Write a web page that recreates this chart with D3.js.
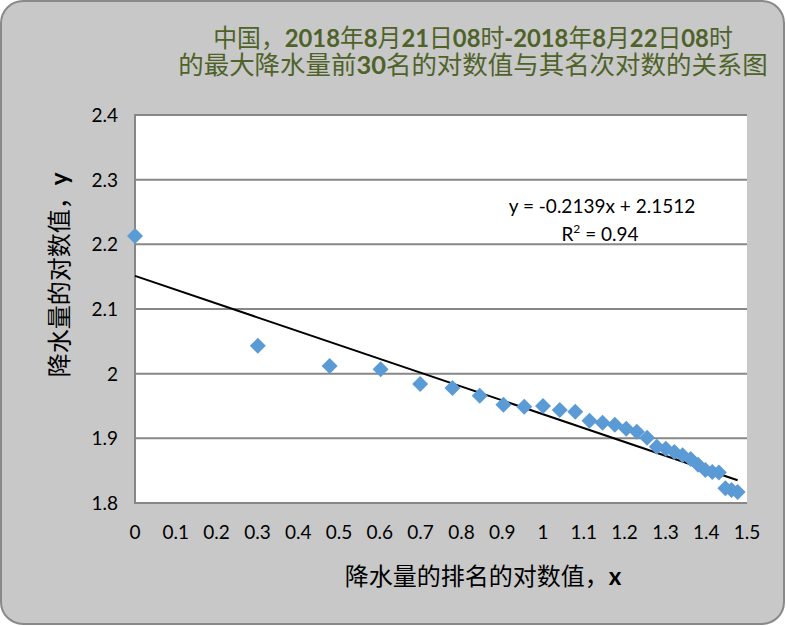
<!DOCTYPE html>
<html><head><meta charset="utf-8">
<script src="https://cdn.jsdelivr.net/npm/d3@7"></script>
<style>
html,body{margin:0;padding:0;background:#fff;}
svg{display:block;}
</style></head>
<body>
<script>
// log10(rank) for ranks 1..30
const xValues = [0, 0.301, 0.477, 0.602, 0.699, 0.778, 0.845, 0.903, 0.954, 1.000,
  1.041, 1.079, 1.114, 1.146, 1.176, 1.204, 1.230, 1.255, 1.279, 1.301,
  1.322, 1.342, 1.362, 1.380, 1.398, 1.415, 1.431, 1.447, 1.462, 1.477];
// log10(max precipitation)
const yValues = [2.213, 2.043, 2.012, 2.007, 1.984, 1.978, 1.966, 1.952, 1.949, 1.950,
  1.944, 1.941, 1.927, 1.924, 1.921, 1.915, 1.910, 1.901, 1.887, 1.884,
  1.879, 1.874, 1.868, 1.859, 1.851, 1.848, 1.847, 1.823, 1.820, 1.817];
const xTicks = [0,0.1,0.2,0.3,0.4,0.5,0.6,0.7,0.8,0.9,1,1.1,1.2,1.3,1.4,1.5];
const yTicks = [1.8,1.9,2.0,2.1,2.2,2.3,2.4];
const trendSlope = -0.2139, trendIntercept = 2.1512, rSquared = "0.94";
const titleLines = ["中国，2018年8月21日08时-2018年8月22日08时", "的最大降水量前30名的对数值与其名次对数的关系图"];
const xTitle = "降水量的排名的对数值，x";
const yTitle = "降水量的对数值，y";

const W = 786, H = 626;
const svg = d3.select("body").append("svg").attr("width", W).attr("height", H);
svg.append("rect").attr("x",1).attr("y",1).attr("width",W-3).attr("height",H-3)
  .attr("rx",22).attr("ry",22).attr("fill","#c8c8c8").attr("stroke","#898989").attr("stroke-width",2);

const L = 135, R = 747, T = 115, B = 503;
const x = d3.scaleLinear().domain([0,1.5]).range([L,R]);
const y = d3.scaleLinear().domain([1.8,2.4]).range([B,T]);

svg.append("rect").attr("x",L).attr("y",T).attr("width",R-L).attr("height",B-T).attr("fill","#fff");

const tickFont = "Lato, 'Open Sans', 'Noto Sans', sans-serif";
const cjkFont = "'Noto Sans CJK SC', sans-serif";

// gridlines
svg.append("g").selectAll("line").data(yTicks).join("line")
  .attr("x1",L).attr("x2",R).attr("y1",d=>y(d)).attr("y2",d=>y(d))
  .attr("stroke","#878787").attr("stroke-width",2);
// left axis line
svg.append("line").attr("x1",L).attr("x2",L).attr("y1",T-1).attr("y2",B+1)
  .attr("stroke","#878787").attr("stroke-width",2);

// y tick labels
svg.append("g").selectAll("text").data(yTicks).join("text")
  .attr("x",118).attr("y",d=>y(d)).attr("dy","0.36em").attr("text-anchor","end")
  .attr("font-family",tickFont).attr("font-size",19).attr("fill","#000")
  .text(d=>d3.format("")(+d.toFixed(1)));
// x tick labels
svg.append("g").selectAll("text").data(xTicks).join("text")
  .attr("x",d=>x(d)).attr("y",539).attr("text-anchor","middle")
  .attr("font-family",tickFont).attr("font-size",19).attr("fill","#000")
  .text(d=>d3.format("")(+d.toFixed(1)));

// trendline
const xMin = d3.min(xValues), xMax = d3.max(xValues);
svg.append("line")
  .attr("x1",x(xMin)).attr("y1",y(trendIntercept + trendSlope*xMin))
  .attr("x2",x(xMax)).attr("y2",y(trendIntercept + trendSlope*xMax))
  .attr("stroke","#000").attr("stroke-width",2);

// points
const pts = xValues.map((v,i)=>({x:v,y:yValues[i]}));
const s = 8;
svg.append("g").selectAll("path").data(pts).join("path")
  .attr("d",d=>{const cx=x(d.x), cy=y(d.y); return `M${cx},${cy-s}L${cx+s},${cy}L${cx},${cy+s}L${cx-s},${cy}Z`;})
  .attr("fill","#5b9bd5");

// equation
svg.append("text").attr("x",602).attr("y",213).attr("text-anchor","middle")
  .attr("font-family",tickFont).attr("font-size",19).text(`y = ${trendSlope}x + ${trendIntercept}`);
const r2 = svg.append("text").attr("x",600).attr("y",241).attr("text-anchor","middle")
  .attr("font-family",tickFont).attr("font-size",19);
r2.append("tspan").text("R");
r2.append("tspan").attr("font-size",12).attr("dy",-8).text("2");
r2.append("tspan").attr("dy",8).text(" = " + rSquared);

// mixed-font text helper: digits bold latin, CJK regular
function mixed(sel, str, latinBold) {
  str.split(/([0-9\-a-z]+)/).filter(p=>p.length).forEach(p=>{
    const isLatin = /^[0-9\-a-z]+$/.test(p);
    const t = sel.append("tspan").text(p);
    if (isLatin) t.attr("font-family","Lato, sans-serif").attr("font-weight", latinBold ? "bold" : "normal");
    else t.attr("font-family",cjkFont).attr("font-weight","normal");
  });
}

// title
const titleTargets = [{cx:473, w:520, base:47}, {cx:473, w:590, base:74}];
titleLines.forEach((line,i)=>{
  const g = svg.append("g");
  const t = g.append("text").attr("x",0).attr("y",0).attr("text-anchor","middle")
    .attr("font-size",25).attr("fill","#4f6228");
  mixed(t, line, true);
  const bw = t.node().getBBox().width;
  const k = titleTargets[i].w / bw;
  g.attr("transform",`translate(${titleTargets[i].cx},${titleTargets[i].base}) scale(${k},1)`);
});

// axis titles
const xt = svg.append("text").attr("x",483).attr("y",585).attr("text-anchor","middle")
  .attr("font-size",24).attr("fill","#000");
mixed(xt, xTitle, true);
const yt = svg.append("text").attr("transform","translate(68,275) rotate(-90)").attr("text-anchor","middle")
  .attr("font-size",24).attr("fill","#000");
mixed(yt, yTitle, true);
</script>
</body></html>
